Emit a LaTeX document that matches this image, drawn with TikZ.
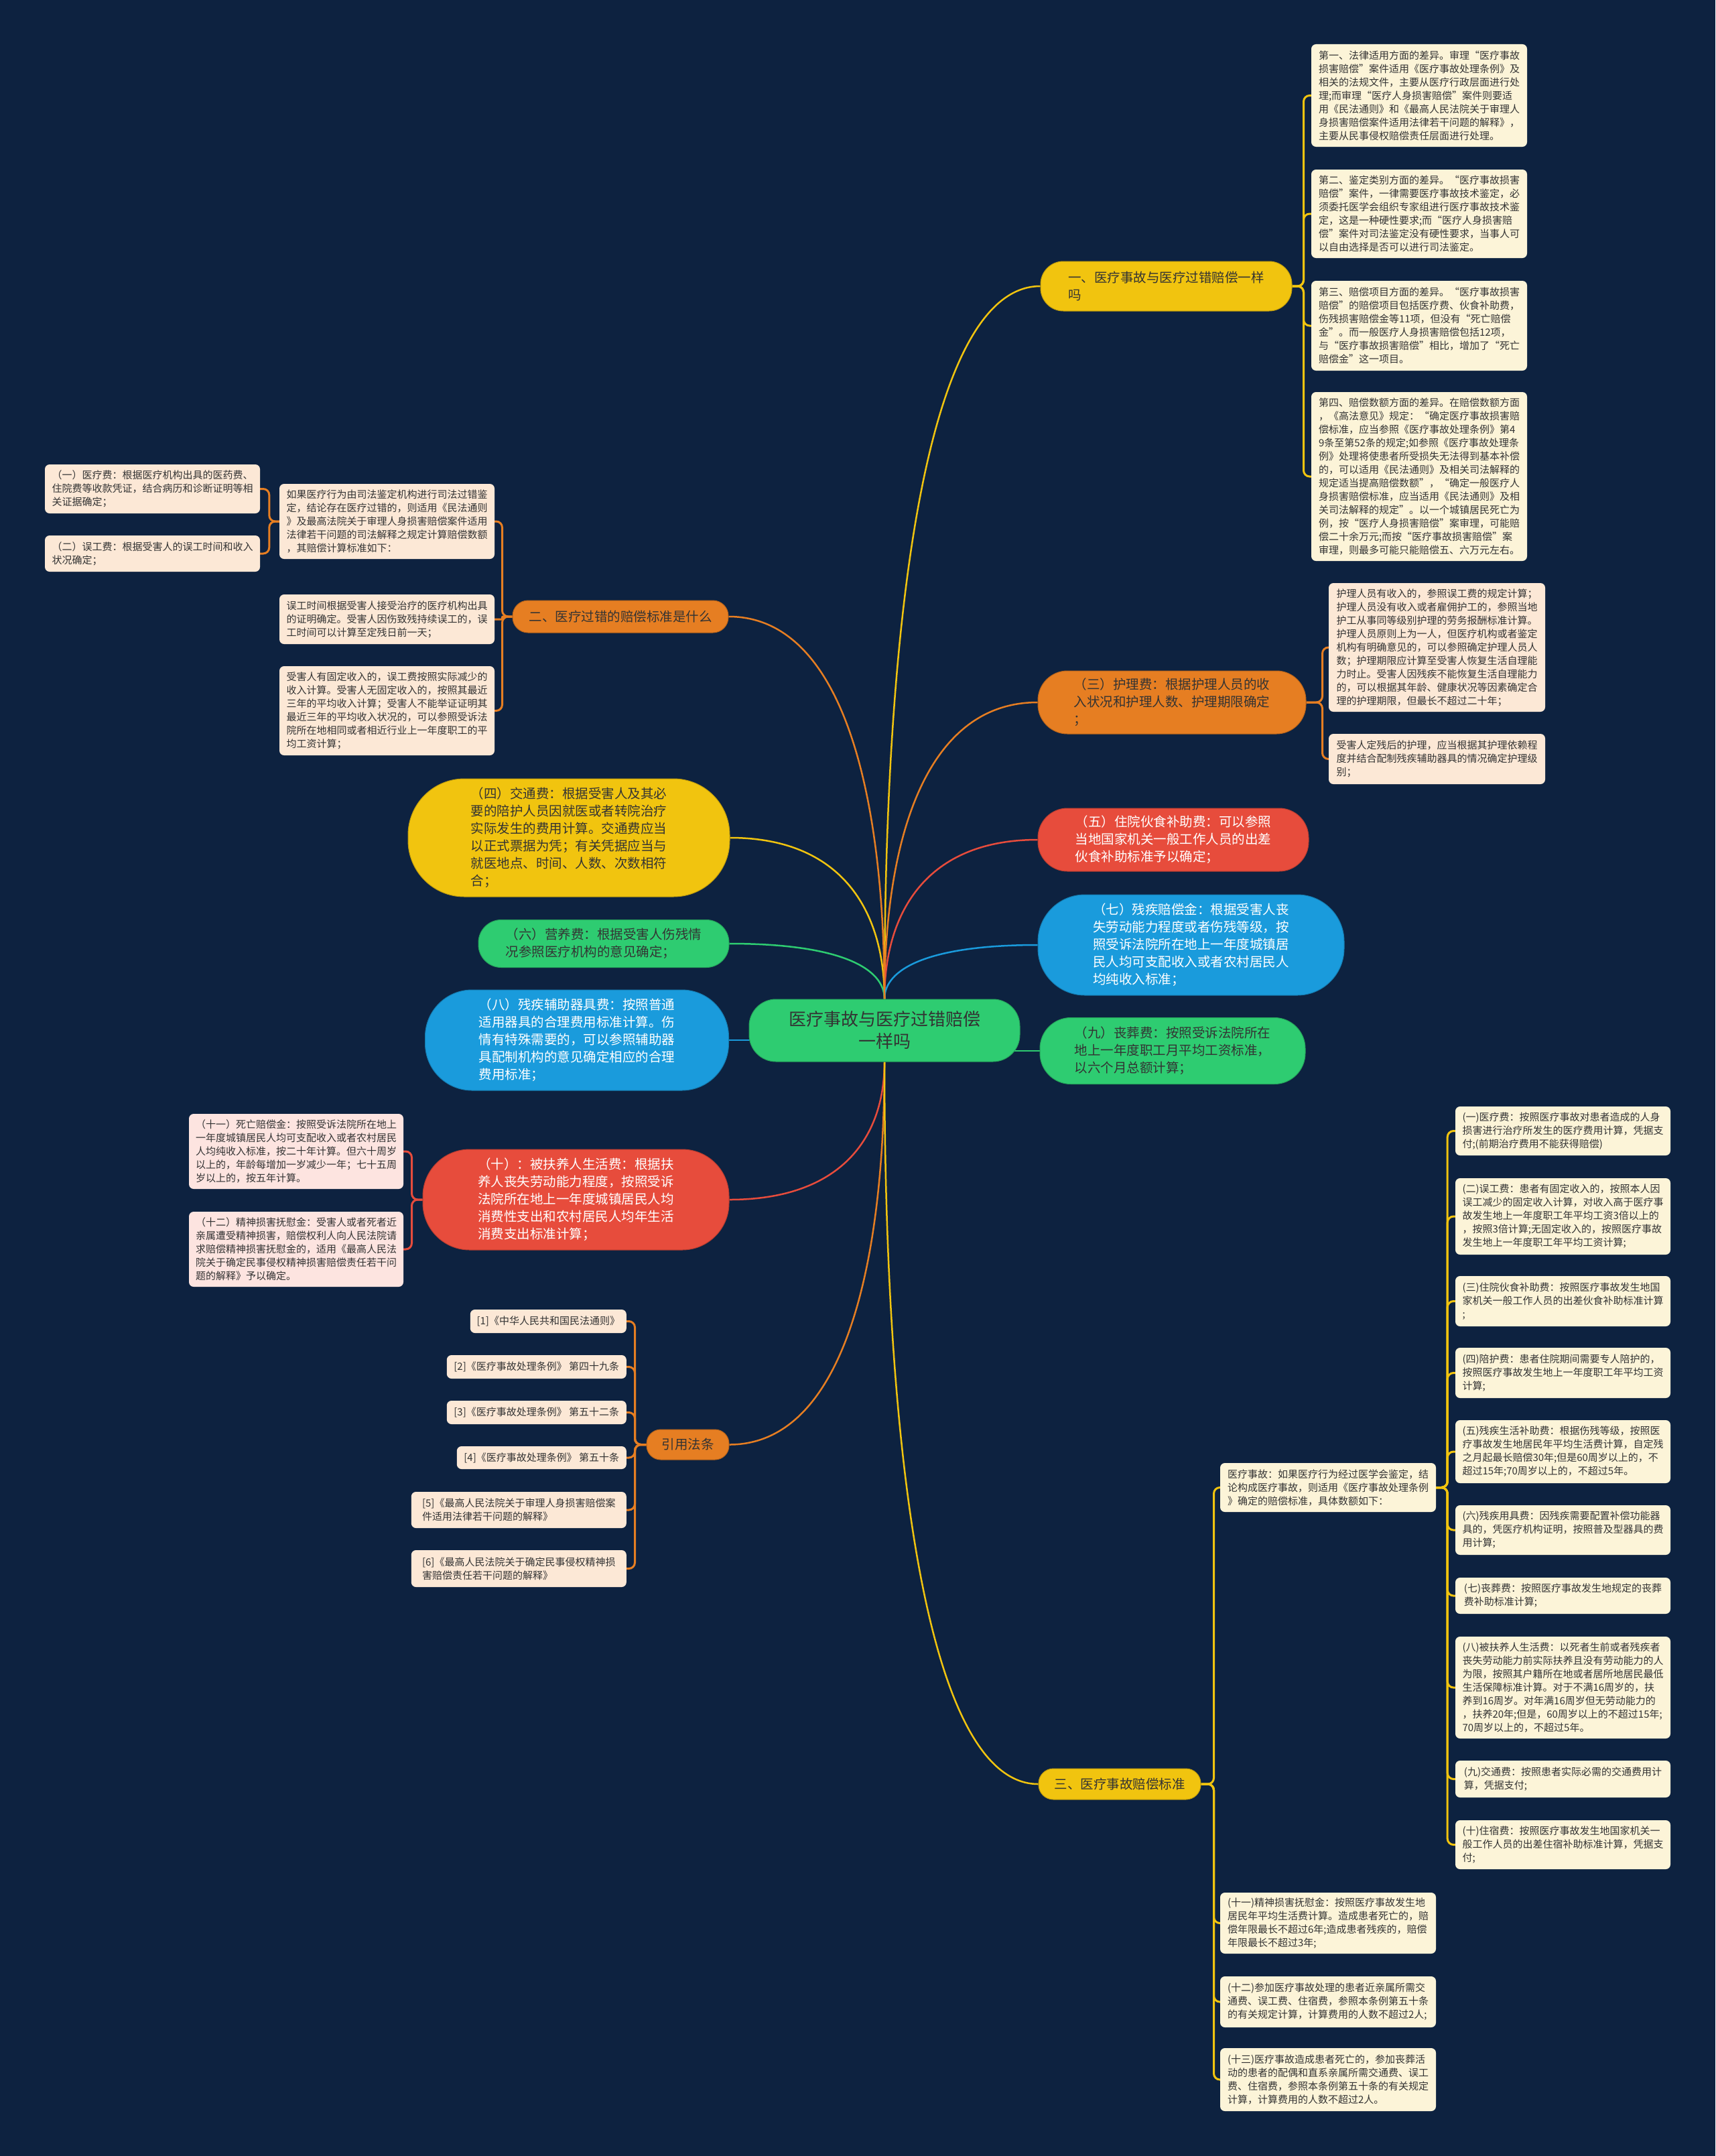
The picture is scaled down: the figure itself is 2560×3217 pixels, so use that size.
\documentclass[tikz,border=0pt]{standalone}
\usepackage{fontspec}
\setmainfont{Noto Sans CJK SC}
\usepackage{tikz}
\usetikzlibrary{calc,backgrounds}
\definecolor{cBg}{HTML}{0D2240}
\definecolor{cYellow}{HTML}{F1C40F}
\definecolor{cOrange}{HTML}{E67E22}
\definecolor{cRed}{HTML}{E74C3C}
\definecolor{cBlue}{HTML}{1A9BDC}
\definecolor{cGreen}{HTML}{2ECC71}
\definecolor{cCream}{HTML}{FCF4D8}
\definecolor{cPeach}{HTML}{FCE8D6}
\definecolor{cPink}{HTML}{FDE4E0}
\definecolor{cInk}{HTML}{333333}

\begin{document}
\begin{tikzpicture}[x=1pt, y=-1pt,
  every node/.style={font=\fontsize{15}{20}\selectfont, text=cInk, align=left, inner sep=0pt},
  leaf/.style={fill=#1, rounded corners=7pt, minimum width=322pt},
  pill/.style={fill=#1, draw=#1!80!black, line width=1pt,
               font=\fontsize{19.5}{26}\selectfont},
  conn/.style={draw=#1, line width=3pt, rounded corners=9pt},
  mainlink/.style={draw=#1, line width=2.5pt,
    to path={.. controls ($(\tikztostart)!0.55!(\tikztostart|-\tikztotarget)$)
             and ($(\tikztostart|-\tikztotarget)!0.28!(\tikztotarget)$) .. (\tikztotarget)}},
]
  \useasboundingbox (0,0) rectangle (2560,3217);
  \begin{scope}[on background layer]
    \fill[cBg] (0,0) rectangle (2560,3217);
  \end{scope}

  % centre
  \node[pill=cGreen, minimum width=404pt, minimum height=93pt, rounded corners=40pt,
        font=\fontsize{26}{33}\selectfont, align=center] (m) at (1320,1537.5) {医疗事故与医疗过错赔偿\\一样吗};

  % right branches
  \node[pill=cYellow, minimum width=375pt, minimum height=74pt, rounded corners=34pt] (q1) at (1740.5,427) {一、医疗事故与医疗过错赔偿一样\\吗};
  \node[pill=cOrange, minimum width=400pt, minimum height=94pt, rounded corners=44pt] (nurse) at (1749,1048) {（三）护理费：根据护理人员的收\\入状况和护理人数、护理期限确定\\；};
  \node[pill=cRed, text=white, minimum width=404pt, minimum height=94pt, rounded corners=44pt] (meal) at (1751,1253) {（五）住院伙食补助费：可以参照\\当地国家机关一般工作人员的出差\\伙食补助标准予以确定；};
  \node[pill=cBlue, text=white, minimum width=457pt, minimum height=150pt, rounded corners=70pt] (disab) at (1777.5,1410) {（七）残疾赔偿金：根据受害人丧\\失劳动能力程度或者伤残等级，按\\照受诉法院所在地上一年度城镇居\\民人均可支配收入或者农村居民人\\均纯收入标准；};
  \node[pill=cGreen, minimum width=396pt, minimum height=99pt, rounded corners=46pt] (funeral) at (1750,1568) {（九）丧葬费：按照受诉法院所在\\地上一年度职工月平均工资标准，\\以六个月总额计算；};
  \node[pill=cYellow, minimum width=242pt, minimum height=46pt, rounded corners=22pt] (q3) at (1671,2662) {三、医疗事故赔偿标准};

  % left branches
  \node[pill=cOrange, minimum width=322pt, minimum height=48pt, rounded corners=23pt] (q2) at (926,920) {二、医疗过错的赔偿标准是什么};
  \node[pill=cYellow, minimum width=480pt, minimum height=176pt, rounded corners=84pt] (travel) at (849,1250) {（四）交通费：根据受害人及其必\\要的陪护人员因就医或者转院治疗\\实际发生的费用计算。交通费应当\\以正式票据为凭；有关凭据应当与\\就医地点、时间、人数、次数相符\\合；};
  \node[pill=cGreen, minimum width=374pt, minimum height=71pt, rounded corners=34pt] (nutri) at (901,1408) {（六）营养费：根据受害人伤残情\\况参照医疗机构的意见确定；};
  \node[pill=cBlue, text=white, minimum width=453pt, minimum height=150pt, rounded corners=70pt] (aids) at (861,1552) {（八）残疾辅助器具费：按照普通\\适用器具的合理费用标准计算。伤\\情有特殊需要的，可以参照辅助器\\具配制机构的意见确定相应的合理\\费用标准；};
  \node[pill=cRed, text=white, minimum width=457pt, minimum height=150pt, rounded corners=70pt] (support) at (859.5,1790) {（十）：被扶养人生活费：根据扶\\养人丧失劳动能力程度，按照受诉\\法院所在地上一年度城镇居民人均\\消费性支出和农村居民人均年生活\\消费支出标准计算；};
  \node[pill=cOrange, minimum width=123pt, minimum height=45pt, rounded corners=21pt] (laws) at (1026.5,2155.5) {引用法条};

  % leaves of q1
  \node[leaf=cCream, minimum height=153pt] (diff1) at (2118,142.5) {第一、法律适用方面的差异。审理“医疗事故\\损害赔偿”案件适用《医疗事故处理条例》及\\相关的法规文件，主要从医疗行政层面进行处\\理;而审理“医疗人身损害赔偿”案件则要适\\用《民法通则》和《最高人民法院关于审理人\\身损害赔偿案件适用法律若干问题的解释》，\\主要从民事侵权赔偿责任层面进行处理。};
  \node[leaf=cCream, minimum height=132pt] (diff2) at (2118,319) {第二、鉴定类别方面的差异。“医疗事故损害\\赔偿”案件，一律需要医疗事故技术鉴定，必\\须委托医学会组织专家组进行医疗事故技术鉴\\定，这是一种硬性要求;而“医疗人身损害赔\\偿”案件对司法鉴定没有硬性要求，当事人可\\以自由选择是否可以进行司法鉴定。};
  \node[leaf=cCream, minimum height=134pt] (diff3) at (2118,486) {第三、赔偿项目方面的差异。“医疗事故损害\\赔偿”的赔偿项目包括医疗费、伙食补助费，\\伤残损害赔偿金等11项，但没有“死亡赔偿\\金”。而一般医疗人身损害赔偿包括12项，\\与“医疗事故损害赔偿”相比，增加了“死亡\\赔偿金”这一项目。};
  \node[leaf=cCream, minimum height=252pt] (diff4) at (2118,711) {第四、赔偿数额方面的差异。在赔偿数额方面\\，《高法意见》规定：“确定医疗事故损害赔\\偿标准，应当参照《医疗事故处理条例》第4\\9条至第52条的规定;如参照《医疗事故处理条\\例》处理将使患者所受损失无法得到基本补偿\\的，可以适用《民法通则》及相关司法解释的\\规定适当提高赔偿数额”，“确定一般医疗人\\身损害赔偿标准，应当适用《民法通则》及相\\关司法解释的规定”。以一个城镇居民死亡为\\例，按“医疗人身损害赔偿”案审理，可能赔\\偿二十余万元;而按“医疗事故损害赔偿”案\\审理，则最多可能只能赔偿五、六万元左右。};

  % leaves of nurse
  \node[leaf=cPeach, minimum width=323pt, minimum height=192pt] (care1) at (2144.5,966) {护理人员有收入的，参照误工费的规定计算；\\护理人员没有收入或者雇佣护工的，参照当地\\护工从事同等级别护理的劳务报酬标准计算。\\护理人员原则上为一人，但医疗机构或者鉴定\\机构有明确意见的，可以参照确定护理人员人\\数；护理期限应计算至受害人恢复生活自理能\\力时止。受害人因残疾不能恢复生活自理能力\\的，可以根据其年龄、健康状况等因素确定合\\理的护理期限，但最长不超过二十年；};
  \node[leaf=cPeach, minimum width=323pt, minimum height=75pt] (care2) at (2144.5,1132.5) {受害人定残后的护理，应当根据其护理依赖程\\度并结合配制残疾辅助器具的情况确定护理级\\别；};

  % leaves of q2
  \node[leaf=cPeach, minimum width=321pt, minimum height=112pt] (fault0) at (577.5,778) {如果医疗行为由司法鉴定机构进行司法过错鉴\\定，结论存在医疗过错的，则适用《民法通则\\》及最高法院关于审理人身损害赔偿案件适用\\法律若干问题的司法解释之规定计算赔偿数额\\，其赔偿计算标准如下：};
  \node[leaf=cPeach, minimum width=321pt, minimum height=74pt] (fault1) at (577.5,924) {误工时间根据受害人接受治疗的医疗机构出具\\的证明确定。受害人因伤致残持续误工的，误\\工时间可以计算至定残日前一天；};
  \node[leaf=cPeach, minimum width=321pt, minimum height=133pt] (fault2) at (577.5,1060.5) {受害人有固定收入的，误工费按照实际减少的\\收入计算。受害人无固定收入的，按照其最近\\三年的平均收入计算；受害人不能举证证明其\\最近三年的平均收入状况的，可以参照受诉法\\院所在地相同或者相近行业上一年度职工的平\\均工资计算；};
  \node[leaf=cPeach, minimum width=321pt, minimum height=73pt] (fee1) at (227.5,729.5) {（一）医疗费：根据医疗机构出具的医药费、\\住院费等收款凭证，结合病历和诊断证明等相\\关证据确定；};
  \node[leaf=cPeach, minimum width=321pt, minimum height=54pt] (fee2) at (227.5,826) {（二）误工费：根据受害人的误工时间和收入\\状况确定；};

  % leaves of support
  \node[leaf=cPink, minimum width=320pt, minimum height=112pt] (death) at (442,1718) {（十一）死亡赔偿金：按照受诉法院所在地上\\一年度城镇居民人均可支配收入或者农村居民\\人均纯收入标准，按二十年计算。但六十周岁\\以上的，年龄每增加一岁减少一年；七十五周\\岁以上的，按五年计算。};
  \node[leaf=cPink, minimum width=320pt, minimum height=112pt] (mental) at (442,1864) {（十二）精神损害抚慰金：受害人或者死者近\\亲属遭受精神损害，赔偿权利人向人民法院请\\求赔偿精神损害抚慰金的，适用《最高人民法\\院关于确定民事侵权精神损害赔偿责任若干问\\题的解释》予以确定。};

  % leaves of laws
  \node[leaf=cPeach, anchor=east, minimum width=233pt, minimum height=35pt] (law1) at (935,1971.5) {[1]《中华人民共和国民法通则》};
  \node[leaf=cPeach, anchor=east, minimum width=268pt, minimum height=35pt] (law2) at (935,2039.5) {[2]《医疗事故处理条例》 第四十九条};
  \node[leaf=cPeach, anchor=east, minimum width=268pt, minimum height=35pt] (law3) at (935,2107.5) {[3]《医疗事故处理条例》 第五十二条};
  \node[leaf=cPeach, anchor=east, minimum width=253pt, minimum height=34pt] (law4) at (935,2175) {[4]《医疗事故处理条例》 第五十条};
  \node[leaf=cPeach, anchor=east, minimum width=321pt, minimum height=54pt] (law5) at (935,2253) {[5]《最高人民法院关于审理人身损害赔偿案\\件适用法律若干问题的解释》};
  \node[leaf=cPeach, anchor=east, minimum width=321pt, minimum height=55pt] (law6) at (935,2340.5) {[6]《最高人民法院关于确定民事侵权精神损\\害赔偿责任若干问题的解释》};

  % leaves of q3
  \node[leaf=cCream, minimum height=73pt] (acc0) at (1982,2219.5) {医疗事故：如果医疗行为经过医学会鉴定，结\\论构成医疗事故，则适用《医疗事故处理条例\\》确定的赔偿标准，具体数额如下：};
  \node[leaf=cCream, minimum height=91pt] (acc11) at (1982,2869.5) {(十一)精神损害抚慰金：按照医疗事故发生地\\居民年平均生活费计算。造成患者死亡的，赔\\偿年限最长不超过6年;造成患者残疾的，赔偿\\年限最长不超过3年;};
  \node[leaf=cCream, minimum height=76pt] (acc12) at (1982,2987) {(十二)参加医疗事故处理的患者近亲属所需交\\通费、误工费、住宿费，参照本条例第五十条\\的有关规定计算，计算费用的人数不超过2人;};
  \node[leaf=cCream, minimum height=94pt] (acc13) at (1982,3103) {(十三)医疗事故造成患者死亡的，参加丧葬活\\动的患者的配偶和直系亲属所需交通费、误工\\费、住宿费，参照本条例第五十条的有关规定\\计算，计算费用的人数不超过2人。};

  % leaves of acc0
  \node[leaf=cCream, minimum width=321pt, minimum height=73pt] (item1) at (2332.5,1687.5) {(一)医疗费：按照医疗事故对患者造成的人身\\损害进行治疗所发生的医疗费用计算，凭据支\\付;(前期治疗费用不能获得赔偿)};
  \node[leaf=cCream, minimum width=321pt, minimum height=114pt] (item2) at (2332.5,1815) {(二)误工费：患者有固定收入的，按照本人因\\误工减少的固定收入计算，对收入高于医疗事\\故发生地上一年度职工年平均工资3倍以上的\\，按照3倍计算;无固定收入的，按照医疗事故\\发生地上一年度职工年平均工资计算;};
  \node[leaf=cCream, minimum width=321pt, minimum height=75pt] (item3) at (2332.5,1941.5) {(三)住院伙食补助费：按照医疗事故发生地国\\家机关一般工作人员的出差伙食补助标准计算\\;};
  \node[leaf=cCream, minimum width=321pt, minimum height=75pt] (item4) at (2332.5,2048.5) {(四)陪护费：患者住院期间需要专人陪护的，\\按照医疗事故发生地上一年度职工年平均工资\\计算;};
  \node[leaf=cCream, minimum width=321pt, minimum height=94pt] (item5) at (2332.5,2166) {(五)残疾生活补助费：根据伤残等级，按照医\\疗事故发生地居民年平均生活费计算，自定残\\之月起最长赔偿30年;但是60周岁以上的，不\\超过15年;70周岁以上的，不超过5年。};
  \node[leaf=cCream, minimum width=321pt, minimum height=74pt] (item6) at (2332.5,2283) {(六)残疾用具费：因残疾需要配置补偿功能器\\具的，凭医疗机构证明，按照普及型器具的费\\用计算;};
  \node[leaf=cCream, minimum width=321pt, minimum height=54pt] (item7) at (2332.5,2381) {(七)丧葬费：按照医疗事故发生地规定的丧葬\\费补助标准计算;};
  \node[leaf=cCream, minimum width=321pt, minimum height=152pt] (item8) at (2332.5,2518) {(八)被扶养人生活费：以死者生前或者残疾者\\丧失劳动能力前实际扶养且没有劳动能力的人\\为限，按照其户籍所在地或者居所地居民最低\\生活保障标准计算。对于不满16周岁的，扶\\养到16周岁。对年满16周岁但无劳动能力的\\，扶养20年;但是，60周岁以上的不超过15年;\\70周岁以上的，不超过5年。};
  \node[leaf=cCream, minimum width=321pt, minimum height=55pt] (item9) at (2332.5,2654.5) {(九)交通费：按照患者实际必需的交通费用计\\算，凭据支付;};
  \node[leaf=cCream, minimum width=321pt, minimum height=73pt] (item10) at (2332.5,2752.5) {(十)住宿费：按照医疗事故发生地国家机关一\\般工作人员的出差住宿补助标准计算，凭据支\\付;};

  \begin{scope}[on background layer]
    % centre to branches
    \draw[mainlink=cYellow] (m.north) to (q1.west);
    \draw[mainlink=cOrange] (m.north) to (nurse.west);
    \draw[mainlink=cRed] (m.north) to (meal.west);
    \draw[mainlink=cBlue] (m.north) to (disab.west);
    \draw[cGreen, line width=2.5pt] (funeral.west -| m.center) -- (funeral.west);
    \draw[mainlink=cYellow] (m.north) to (travel.east);
    \draw[mainlink=cGreen] (m.north) to (nutri.east);
    \draw[mainlink=cOrange] (m.north) to (q2.east);
    \draw[cBlue, line width=2.5pt] (aids.east) -- (aids.east -| m.center);
    \draw[mainlink=cRed] (m.south) to (support.east);
    \draw[mainlink=cOrange] (m.south) to (laws.east);
    \draw[mainlink=cYellow] (m.south) to (q3.west);

    % q1
    \draw[conn=cYellow] (q1.east) -- ++(17,0) |- (diff1.west);
    \draw[conn=cYellow] (q1.east) -- ++(17,0) |- (diff2.west);
    \draw[conn=cYellow] (q1.east) -- ++(17,0) |- (diff3.west);
    \draw[conn=cYellow] (q1.east) -- ++(17,0) |- (diff4.west);
    % nurse
    \draw[conn=cOrange] (nurse.east) -- ++(24,0) |- (care1.west);
    \draw[conn=cOrange] (nurse.east) -- ++(24,0) |- (care2.west);
    % q2
    \draw[conn=cOrange] (q2.west) -- ++(-15,0) |- (fault0.east);
    \draw[conn=cOrange, rounded corners=1pt] (q2.west) -- ++(-15,0) |- (fault1.east);
    \draw[conn=cOrange] (q2.west) -- ++(-15,0) |- (fault2.east);
    \draw[conn=cOrange] (fault0.west) -- ++(-15,0) |- (fee1.east);
    \draw[conn=cOrange] (fault0.west) -- ++(-15,0) |- (fee2.east);
    % support
    \draw[conn=cRed] (support.west) -- ++(-16,0) |- (death.east);
    \draw[conn=cRed] (support.west) -- ++(-16,0) |- (mental.east);
    % laws
    \draw[conn=cOrange] (laws.west) -- ++(-17,0) |- (law1.east);
    \draw[conn=cOrange] (laws.west) -- ++(-17,0) |- (law2.east);
    \draw[conn=cOrange] (laws.west) -- ++(-17,0) |- (law3.east);
    \draw[conn=cOrange] (laws.west) -- ++(-17,0) |- (law4.east);
    \draw[conn=cOrange] (laws.west) -- ++(-17,0) |- (law5.east);
    \draw[conn=cOrange] (laws.west) -- ++(-17,0) |- (law6.east);
    % q3
    \draw[conn=cYellow] (q3.east) -- ++(19,0) |- (acc0.west);
    \draw[conn=cYellow] (q3.east) -- ++(19,0) |- (acc11.west);
    \draw[conn=cYellow] (q3.east) -- ++(19,0) |- (acc12.west);
    \draw[conn=cYellow] (q3.east) -- ++(19,0) |- (acc13.west);
    % acc0
    \draw[conn=cYellow] (acc0.east) -- ++(17,0) |- (item1.west);
    \draw[conn=cYellow] (acc0.east) -- ++(17,0) |- (item2.west);
    \draw[conn=cYellow] (acc0.east) -- ++(17,0) |- (item3.west);
    \draw[conn=cYellow] (acc0.east) -- ++(17,0) |- (item4.west);
    \draw[conn=cYellow] (acc0.east) -- ++(17,0) |- (item5.west);
    \draw[conn=cYellow] (acc0.east) -- ++(17,0) |- (item6.west);
    \draw[conn=cYellow] (acc0.east) -- ++(17,0) |- (item7.west);
    \draw[conn=cYellow] (acc0.east) -- ++(17,0) |- (item8.west);
    \draw[conn=cYellow] (acc0.east) -- ++(17,0) |- (item9.west);
    \draw[conn=cYellow] (acc0.east) -- ++(17,0) |- (item10.west);
  \end{scope}
\end{tikzpicture}
\end{document}
